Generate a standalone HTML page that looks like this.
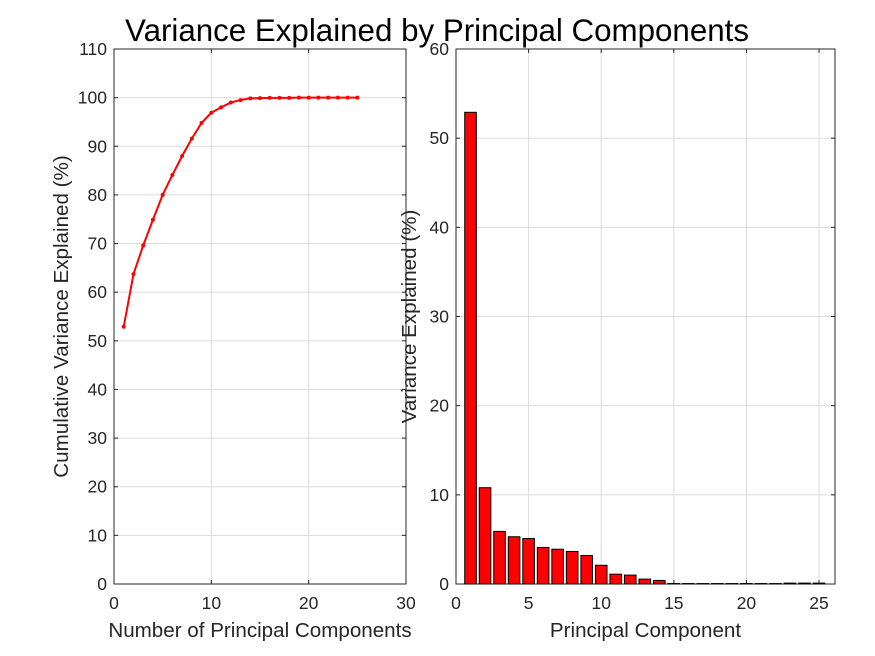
<!DOCTYPE html>
<html><head><meta charset="utf-8"><style>
body{margin:0;background:#fff;}
svg{display:block;font-family:"Liberation Sans",sans-serif;}
</style></head><body>
<svg id="c" width="875" height="656" viewBox="0 0 875 656">
<rect width="875" height="656" fill="#fff"/>
<text x="437" y="41" font-size="31.3" text-anchor="middle" fill="#000">Variance Explained by Principal Components</text>
<g id="L"></g>
<g id="R"></g>
</svg>
<script>
const cumX=[1,2,3,4,5,6,7,8,9,10,11,12,13,14,15,16,17,18,19,20,21,22,23,24,25];
const cumY=[52.9,63.7,69.6,74.9,80.0,84.1,88.0,91.6,94.8,96.9,98.0,99.0,99.5,99.85,99.9,99.95,99.95,99.95,100,100,100,100,100,100,100];
const barX=[1,2,3,4,5,6,7,8,9,10,11,12,13,14,15,16,17,18,19,20,21,22,23,24,25];
const barY=[52.9,10.8,5.9,5.3,5.1,4.1,3.9,3.65,3.2,2.1,1.1,1.0,0.55,0.4,0.05,0.05,0.05,0.05,0.05,0.05,0.05,0.05,0.1,0.1,0.1];
const lxTicks=[0,10,20,30];
const lyTicks=[0,10,20,30,40,50,60,70,80,90,100,110];
const rxTicks=[0,5,10,15,20,25];
const ryTicks=[0,10,20,30,40,50,60];
const NS='http://www.w3.org/2000/svg';
function mk(p,t,a,txt){const e=document.createElementNS(NS,t);for(const k in a)e.setAttribute(k,a[k]);if(txt!==undefined)e.textContent=txt;p.appendChild(e);return e;}
function axes(g,x0,x1,y0,y1,xmin,xmax,ymin,ymax,xt,yt,xl,yl,ylx){
  const sx=v=>x0+(v-xmin)/(xmax-xmin)*(x1-x0);
  const sy=v=>y1-(v-ymin)/(ymax-ymin)*(y1-y0);
  for(const t of xt){const l=mk(g,'line',{x1:sx(t),x2:sx(t),y1:y0,y2:y1,stroke:'#dcdcdc'});
    const tx=mk(g,'text',{x:sx(t),y:y1+25,'font-size':17.5,'text-anchor':'middle',fill:'#262626'},t);
    mk(g,'line',{x1:sx(t),x2:sx(t),y1:y1,y2:y1-4,stroke:'#262626'});mk(g,'line',{x1:sx(t),x2:sx(t),y1:y0,y2:y0+4,stroke:'#262626'});}
  for(const t of yt){const l=mk(g,'line',{x1:x0,x2:x1,y1:sy(t),y2:sy(t),stroke:'#dcdcdc'});
    const tx=mk(g,'text',{x:x0-7,y:sy(t)+6,'font-size':17.5,'text-anchor':'end',fill:'#262626'},t);
    mk(g,'line',{x1:x0,x2:x0+4,y1:sy(t),y2:sy(t),stroke:'#262626'});mk(g,'line',{x1:x1,x2:x1-4,y1:sy(t),y2:sy(t),stroke:'#262626'});}
  const b=mk(g,'rect',{x:x0,y:y0,width:x1-x0,height:y1-y0,fill:'none',stroke:'#262626'});
  const a=mk(g,'text',{x:(x0+x1)/2,y:y1+53,'font-size':20.6,'text-anchor':'middle',fill:'#262626'},xl);
  const c=mk(g,'text',{x:0,y:0,'font-size':20.6,'text-anchor':'middle',fill:'#262626',transform:`translate(${ylx},${(y0+y1)/2}) rotate(-90)`},yl);
  return [sx,sy];
}
const L=document.getElementById('L'),R=document.getElementById('R');
const [lx,ly]=axes(L,114,406,49,584,0,30,0,110,lxTicks,lyTicks,'Number of Principal Components','Cumulative Variance Explained (%)',68);
const pts=cumX.map((x,i)=>lx(x)+','+ly(cumY[i])).join(' ');
const pl=mk(L,'polyline',{points:pts,fill:'none',stroke:'#ff0000','stroke-width':2});

cumX.forEach((x,i)=>{const c=mk(L,'circle',{cx:lx(x),cy:ly(cumY[i]),r:2,fill:'#ff0000'});});
const [rx,ry]=axes(R,456,835,49,584,0,26.1,0,60,rxTicks,ryTicks,'Principal Component','Variance Explained (%)',416);
barX.forEach((x,i)=>{const w=rx(0.8)-rx(0);const r=mk(R,'rect',{x:rx(x)-w/2,y:ry(barY[i]),width:w,height:ry(0)-ry(barY[i]),fill:'#ff0000',stroke:'#000','stroke-width':1});
  });
</script>
</body></html>
